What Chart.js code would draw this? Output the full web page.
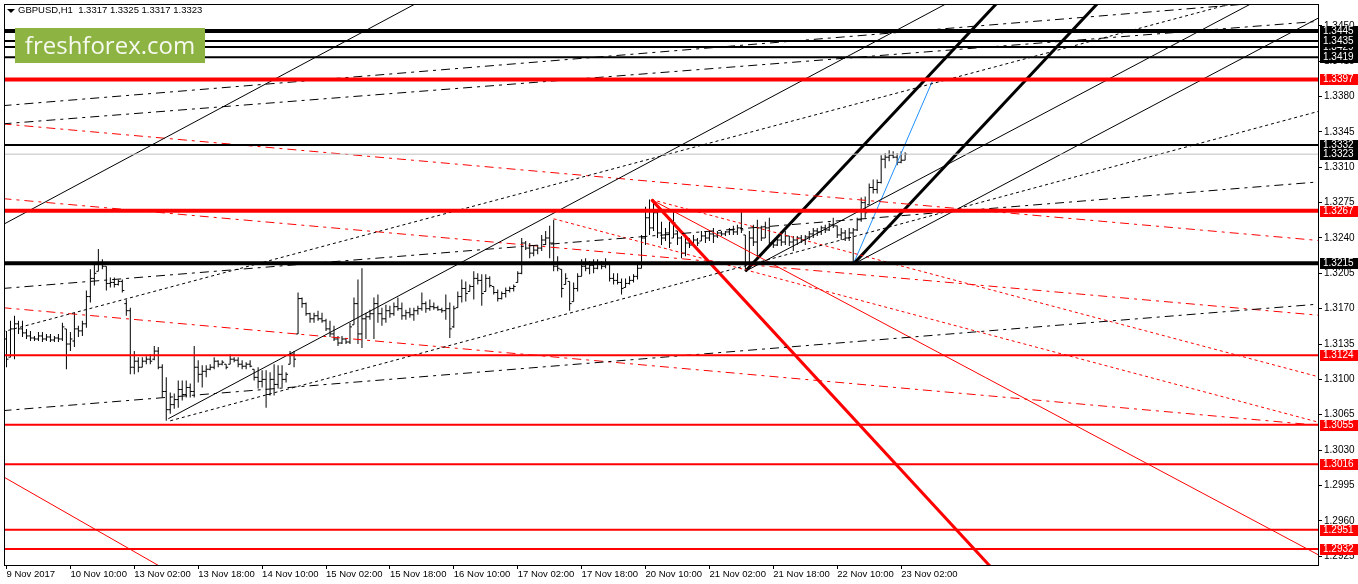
<!DOCTYPE html>
<html><head><meta charset="utf-8">
<script src="https://cdn.jsdelivr.net/npm/chart.js@4"></script>
<style>
html,body{margin:0;padding:0;background:#fff;}
#wrap{position:relative;width:1358px;height:584px;overflow:hidden;}
canvas{display:block;}
#hdr{position:absolute;left:18px;top:4px;font:9.5px "Liberation Sans",Arial,sans-serif;color:#000;white-space:pre;}
#tri{position:absolute;left:7px;top:9px;width:0;height:0;border-left:4px solid transparent;border-right:4px solid transparent;border-top:4px solid #000;}
#logo{position:absolute;left:15px;top:28px;width:190px;height:35px;background:#8db443;color:#f6f9ef;font:24px "Open Sans",sans-serif;line-height:34px;text-align:center;}
</style></head>
<body>
<div id="wrap">
<canvas id="c" width="1358" height="584"></canvas>
<div id="tri"></div>
<div id="hdr">GBPUSD,H1  1.3317 1.3325 1.3317 1.3323</div>
<div id="logo">freshforex.com</div>
</div>
<script>
// ---- time axis ----
const tickIdx = [0,16,32,48,64,80,96,112,128,144,160,176,192,208,224];
const tickLabels = ['9 Nov 2017','10 Nov 10:00','13 Nov 02:00','13 Nov 18:00','14 Nov 10:00','15 Nov 02:00','15 Nov 18:00','16 Nov 10:00','17 Nov 02:00','17 Nov 18:00','20 Nov 10:00','21 Nov 02:00','21 Nov 18:00','22 Nov 10:00','23 Nov 02:00'];
// ---- price axis ----
const priceTicks = [1.2925,1.2960,1.2995,1.3030,1.3065,1.3100,1.3135,1.3170,1.3205,1.3240,1.3275,1.3310,1.3345,1.3380,1.3415,1.3450];

// ---- GBPUSD H1 OHLC ----
const high = [
1.3148,1.3158,1.3163,1.3158,1.3158,1.3150,1.3148,1.3143,1.3147,1.3147,
1.3145,1.3145,1.3143,1.3145,1.3156,1.3150,1.3147,1.3166,1.3153,1.3158,
1.3188,1.3209,1.3214,1.3229,1.3219,1.3212,1.3201,1.3201,1.3199,1.3199,
1.3179,1.3171,1.3128,1.3122,1.3122,1.3123,1.3125,1.3133,1.3132,1.3115,
1.3102,1.3087,1.3086,1.3099,1.3099,1.3099,1.3096,1.3133,1.3119,1.3114,
1.3114,1.3115,1.3122,1.3119,1.3119,1.3115,1.3125,1.3122,1.3122,1.3119,
1.3117,1.3119,1.3110,1.3112,1.3109,1.3109,1.3107,1.3115,1.3114,1.3114,
1.3107,1.3128,1.3128,1.3186,1.3181,1.3176,1.3166,1.3166,1.3168,1.3166,
1.3160,1.3158,1.3153,1.3143,1.3143,1.3141,1.3156,1.3181,1.3199,1.3210,
1.3166,1.3169,1.3181,1.3184,1.3171,1.3174,1.3173,1.3176,1.3181,1.3176,
1.3169,1.3171,1.3171,1.3173,1.3186,1.3177,1.3179,1.3176,1.3173,1.3171,
1.3184,1.3176,1.3173,1.3187,1.3199,1.3197,1.3194,1.3207,1.3205,1.3204,
1.3204,1.3202,1.3192,1.3189,1.3187,1.3191,1.3192,1.3194,1.3207,1.3240,
1.3237,1.3235,1.3232,1.3233,1.3243,1.3247,1.3252,1.3258,1.3222,1.3209,
1.3205,1.3197,1.3196,1.3205,1.3219,1.3220,1.3217,1.3219,1.3219,1.3217,
1.3220,1.3214,1.3205,1.3205,1.3200,1.3200,1.3202,1.3204,1.3214,1.3243,
1.3271,1.3278,1.3278,1.3266,1.3256,1.3250,1.3256,1.3268,1.3247,1.3242,
1.3243,1.3240,1.3243,1.3240,1.3247,1.3247,1.3248,1.3250,1.3247,1.3247,
1.3247,1.3250,1.3252,1.3253,1.3266,1.3243,1.3247,1.3253,1.3258,1.3252,
1.3256,1.3260,1.3238,1.3242,1.3247,1.3247,1.3242,1.3242,1.3242,1.3243,
1.3243,1.3247,1.3250,1.3250,1.3252,1.3253,1.3255,1.3260,1.3252,1.3250,
1.3248,1.3250,1.3250,1.3260,1.3280,1.3281,1.3294,1.3298,1.3298,1.3322,
1.3324,1.3327,1.3326,1.3324,1.3326,1.3325];
const low = [
1.3112,1.3122,1.3120,1.3145,1.3142,1.3140,1.3138,1.3138,1.3138,1.3137,
1.3138,1.3137,1.3137,1.3137,1.3138,1.3110,1.3128,1.3132,1.3142,1.3143,
1.3151,1.3176,1.3193,1.3207,1.3209,1.3188,1.3191,1.3191,1.3193,1.3186,
1.3163,1.3105,1.3105,1.3107,1.3112,1.3115,1.3115,1.3119,1.3110,1.3082,
1.3059,1.3066,1.3071,1.3072,1.3079,1.3082,1.3082,1.3082,1.3097,1.3092,
1.3102,1.3109,1.3110,1.3112,1.3114,1.3110,1.3115,1.3117,1.3112,1.3110,
1.3110,1.3112,1.3099,1.3091,1.3092,1.3072,1.3084,1.3084,1.3091,1.3092,
1.3097,1.3115,1.3112,1.3145,1.3171,1.3163,1.3156,1.3156,1.3158,1.3156,
1.3148,1.3142,1.3138,1.3133,1.3135,1.3135,1.3135,1.3154,1.3135,1.3131,
1.3140,1.3159,1.3140,1.3156,1.3153,1.3156,1.3161,1.3163,1.3168,1.3159,
1.3159,1.3161,1.3158,1.3164,1.3168,1.3166,1.3168,1.3169,1.3168,1.3166,
1.3159,1.3141,1.3151,1.3171,1.3176,1.3177,1.3187,1.3179,1.3194,1.3173,
1.3187,1.3191,1.3184,1.3177,1.3179,1.3181,1.3186,1.3187,1.3196,1.3204,
1.3228,1.3220,1.3222,1.3224,1.3227,1.3233,1.3220,1.3207,1.3207,1.3181,
1.3194,1.3168,1.3177,1.3187,1.3202,1.3207,1.3204,1.3205,1.3209,1.3209,
1.3210,1.3197,1.3194,1.3194,1.3184,1.3191,1.3194,1.3196,1.3199,1.3210,
1.3233,1.3243,1.3247,1.3240,1.3233,1.3237,1.3230,1.3240,1.3233,1.3220,
1.3222,1.3230,1.3233,1.3232,1.3237,1.3235,1.3237,1.3235,1.3240,1.3242,
1.3242,1.3243,1.3243,1.3243,1.3245,1.3207,1.3209,1.3232,1.3220,1.3237,
1.3240,1.3232,1.3230,1.3232,1.3232,1.3233,1.3232,1.3227,1.3233,1.3235,
1.3233,1.3238,1.3240,1.3242,1.3243,1.3245,1.3247,1.3250,1.3240,1.3238,
1.3237,1.3237,1.3214,1.3247,1.3256,1.3260,1.3273,1.3284,1.3284,1.3294,
1.3309,1.3316,1.3319,1.3312,1.3314,1.3317];
const open = [
1.3140,1.3122,1.3150,1.3155,1.3150,1.3146,1.3143,1.3141,1.3140,1.3143,
1.3140,1.3142,1.3139,1.3141,1.3140,1.3150,1.3135,1.3138,1.3150,1.3148,
1.3155,1.3182,1.3200,1.3207,1.3215,1.3212,1.3195,1.3196,1.3194,1.3197,
1.3175,1.3168,1.3112,1.3118,1.3112,1.3118,1.3120,1.3120,1.3128,1.3112,
1.3088,1.3070,1.3075,1.3080,1.3090,1.3085,1.3092,1.3088,1.3112,1.3105,
1.3108,1.3110,1.3112,1.3118,1.3115,1.3115,1.3115,1.3120,1.3119,1.3115,
1.3113,1.3115,1.3110,1.3102,1.3098,1.3100,1.3085,1.3100,1.3095,1.3105,
1.3100,1.3115,1.3125,1.3145,1.3180,1.3175,1.3165,1.3160,1.3163,1.3160,
1.3158,1.3150,1.3145,1.3140,1.3136,1.3140,1.3137,1.3154,1.3175,1.3145,
1.3160,1.3162,1.3165,1.3175,1.3165,1.3160,1.3168,1.3165,1.3172,1.3170,
1.3163,1.3166,1.3164,1.3168,1.3170,1.3175,1.3170,1.3172,1.3171,1.3169,
1.3168,1.3170,1.3152,1.3171,1.3182,1.3190,1.3187,1.3192,1.3200,1.3198,
1.3187,1.3200,1.3192,1.3186,1.3180,1.3185,1.3188,1.3190,1.3196,1.3205,
1.3235,1.3230,1.3225,1.3228,1.3230,1.3238,1.3240,1.3235,1.3212,1.3209,
1.3194,1.3197,1.3177,1.3190,1.3202,1.3212,1.3210,1.3213,1.3210,1.3215,
1.3212,1.3214,1.3200,1.3198,1.3196,1.3191,1.3195,1.3198,1.3202,1.3210,
1.3240,1.3260,1.3250,1.3265,1.3245,1.3240,1.3245,1.3240,1.3247,1.3240,
1.3225,1.3235,1.3233,1.3238,1.3237,1.3242,1.3240,1.3244,1.3242,1.3245,
1.3244,1.3246,1.3248,1.3246,1.3250,1.3243,1.3215,1.3240,1.3236,1.3250,
1.3240,1.3250,1.3235,1.3233,1.3238,1.3236,1.3242,1.3236,1.3238,1.3240,
1.3238,1.3241,1.3244,1.3247,1.3246,1.3250,1.3248,1.3253,1.3252,1.3243,
1.3245,1.3240,1.3245,1.3248,1.3258,1.3275,1.3273,1.3290,1.3288,1.3295,
1.3318,1.3320,1.3322,1.3320,1.3315,1.3317];
const close = [
1.3120,1.3150,1.3155,1.3150,1.3146,1.3143,1.3141,1.3140,1.3143,1.3140,
1.3142,1.3139,1.3141,1.3140,1.3152,1.3135,1.3140,1.3150,1.3148,1.3155,
1.3182,1.3200,1.3205,1.3215,1.3212,1.3195,1.3196,1.3194,1.3197,1.3188,
1.3168,1.3112,1.3118,1.3112,1.3118,1.3120,1.3118,1.3128,1.3112,1.3088,
1.3070,1.3075,1.3080,1.3090,1.3085,1.3092,1.3088,1.3112,1.3105,1.3108,
1.3110,1.3112,1.3118,1.3115,1.3117,1.3112,1.3120,1.3119,1.3115,1.3113,
1.3115,1.3113,1.3102,1.3098,1.3100,1.3085,1.3100,1.3095,1.3105,1.3100,
1.3105,1.3125,1.3120,1.3180,1.3175,1.3165,1.3160,1.3163,1.3160,1.3158,
1.3150,1.3145,1.3140,1.3136,1.3140,1.3137,1.3152,1.3175,1.3145,1.3160,
1.3162,1.3165,1.3175,1.3165,1.3160,1.3168,1.3165,1.3172,1.3170,1.3163,
1.3166,1.3164,1.3168,1.3170,1.3175,1.3170,1.3172,1.3171,1.3169,1.3168,
1.3170,1.3150,1.3170,1.3182,1.3190,1.3185,1.3192,1.3200,1.3198,1.3185,
1.3200,1.3193,1.3186,1.3180,1.3185,1.3188,1.3190,1.3192,1.3205,1.3235,
1.3230,1.3225,1.3228,1.3230,1.3238,1.3240,1.3235,1.3212,1.3210,1.3190,
1.3200,1.3175,1.3190,1.3202,1.3212,1.3210,1.3213,1.3210,1.3215,1.3212,
1.3214,1.3200,1.3198,1.3196,1.3190,1.3195,1.3198,1.3202,1.3210,1.3240,
1.3260,1.3250,1.3265,1.3245,1.3240,1.3245,1.3235,1.3255,1.3240,1.3225,
1.3235,1.3233,1.3238,1.3235,1.3242,1.3240,1.3244,1.3242,1.3245,1.3244,
1.3246,1.3248,1.3246,1.3250,1.3248,1.3215,1.3240,1.3236,1.3250,1.3240,
1.3250,1.3235,1.3233,1.3238,1.3236,1.3242,1.3236,1.3238,1.3240,1.3238,
1.3241,1.3244,1.3247,1.3246,1.3250,1.3248,1.3253,1.3252,1.3243,1.3245,
1.3240,1.3245,1.3248,1.3258,1.3275,1.3265,1.3290,1.3288,1.3295,1.3318,
1.3320,1.3322,1.3320,1.3315,1.3317,1.3323];

// ---- horizontal levels (drawn in this order) ----
const levelPrices = [1.3445,1.3429,1.3435,1.3419,1.3397,1.3332,1.3323,1.3267,1.3215,1.3124,1.3055,1.3016,1.2951,1.2932];
// ---- trend lines: [barIndex1, price1, barIndex2, price2] ----
const trendAnchors = [
 [-1,1.3253,110,1.3488],
 [40.5,1.3061,250,1.3503],
 [212,1.3214,330,1.3461],
 [185,1.3207,315,1.3479],
 [-1,1.3147,320,1.3486],
 [41,1.3059,330,1.3367],
 [-1,1.3371,330,1.3478],
 [-1,1.3353,330,1.3455],
 [-1,1.3190,330,1.3296],
 [-1,1.3069,330,1.3175],
 [-1,1.3353,330,1.3237],
 [-1,1.3279,330,1.3163],
 [-1,1.3171,330,1.3054],
 [161.5,1.3278,330,1.3101],
 [137,1.3259,330,1.3056],
 [161.5,1.3278,330,1.2923],
 [-1,1.3004,45,1.2900],
 [161.5,1.3278,250,1.2899],
 [185,1.3207,250,1.3481],
 [212,1.3214,280,1.3501],
 [212,1.3214,232,1.3397]
];

// ---- styles (kept apart from the values) ----
const BLK='#000000', RED='#ff0000';
const levelStyles = [
 {c:BLK,w:4},{c:BLK,w:2},{c:BLK,w:2},{c:BLK,w:2},{c:RED,w:4},{c:BLK,w:2},{c:'#c0c0c0',w:1},
 {c:RED,w:4},{c:BLK,w:4},{c:RED,w:2},{c:RED,w:2},{c:RED,w:2},{c:RED,w:2},{c:RED,w:2}];
const levelBoxColors = [BLK,BLK,BLK,BLK,RED,BLK,BLK,RED,BLK,RED,RED,RED,RED,RED];
const DOT=[3,3], DASHDOT=[9,5,3,5];
const trendStyles = [
 {c:BLK,w:1,d:[]},{c:BLK,w:1,d:[]},{c:BLK,w:1,d:[]},{c:BLK,w:1,d:[]},
 {c:BLK,w:1,d:DOT},{c:BLK,w:1,d:DOT},
 {c:BLK,w:1,d:DASHDOT},{c:BLK,w:1,d:DASHDOT},{c:BLK,w:1,d:DASHDOT},{c:BLK,w:1,d:DASHDOT},
 {c:RED,w:1,d:DASHDOT},{c:RED,w:1,d:DASHDOT},{c:RED,w:1,d:DASHDOT},
 {c:RED,w:1,d:DOT},{c:RED,w:1,d:DOT},
 {c:RED,w:1,d:[]},{c:RED,w:1,d:[]},
 {c:RED,w:3,d:[]},
 {c:BLK,w:3,d:[]},{c:BLK,w:3,d:[]},
 {c:'#1e90ff',w:1,d:[]}
];

const FONT = '"Liberation Sans", Arial, sans-serif';
Chart.defaults.font.family = FONT;
Chart.defaults.font.size = 10;
Chart.defaults.color = '#000';

const datasets = [];
levelPrices.forEach((p,k)=>{
  datasets.push({type:'line', data:[{x:-2,y:p},{x:340,y:p}], borderColor:levelStyles[k].c,
    borderWidth:levelStyles[k].w, pointRadius:0, order:0, clip:0});
});
trendAnchors.forEach((a,k)=>{
  const s = trendStyles[k];
  datasets.push({type:'line', data:[{x:a[0],y:a[1]},{x:a[2],y:a[3]}], borderColor:s.c,
    borderWidth:s.w, borderDash:s.d, pointRadius:0, order:1, clip:0});
});
datasets.push({type:'bar', data:high.map((h,i)=>({x:i,y:[low[i],h]})), backgroundColor:BLK,
  barThickness:1, minBarLength:1, inflateAmount:0, borderWidth:0, grouped:false, order:6, clip:0});
datasets.push({type:'line', data:open.map((v,i)=>({x:i,y:v})), showLine:false, pointStyle:'dash',
  pointRadius:2, pointRotation:180, pointBorderColor:BLK, pointBackgroundColor:BLK, pointBorderWidth:1, order:5, clip:0});
datasets.push({type:'line', data:close.map((v,i)=>({x:i,y:v})), showLine:false, pointStyle:'dash',
  pointRadius:2, pointRotation:0, pointBorderColor:BLK, pointBackgroundColor:BLK, pointBorderWidth:1, order:5, clip:0});

const mt4 = {
  id:'mt4',
  afterDraw(chart){
    const ctx = chart.ctx, a = chart.chartArea, ys = chart.scales.y;
    ctx.save();
    ctx.strokeStyle = '#000'; ctx.lineWidth = 1;
    ctx.strokeRect(a.left-0.5, a.top-0.5, a.right-a.left+1, a.bottom-a.top+1);
    ctx.font = '10px ' + FONT; ctx.textBaseline = 'middle'; ctx.textAlign = 'left';
    levelPrices.forEach((p,k)=>{
      const py = Math.round(ys.getPixelForValue(p));
      ctx.fillStyle = levelBoxColors[k];
      ctx.fillRect(a.right+2, py-5, 40, 11);
      ctx.fillStyle = '#fff';
      ctx.fillText(p.toFixed(4), a.right+5, py+0.5);
    });
    ctx.restore();
  }
};

new Chart(document.getElementById('c'), {
  type:'line',
  data:{datasets},
  plugins:[mt4],
  options:{
    responsive:false, devicePixelRatio:1, animation:false, events:[],
    layout:{padding:{left:3, top:3, right:0, bottom:0}},
    plugins:{legend:{display:false}, tooltip:{enabled:false}},
    scales:{
      x:{type:'linear', position:'bottom', min:-0.375, max:328.375, offset:false,
        afterBuildTicks:s=>{ s.ticks = tickIdx.map(v=>({value:v})); },
        afterFit:s=>{ s.height = 19; s.paddingLeft = 0; s.paddingRight = 0; },
        ticks:{align:'start', autoSkip:false, maxRotation:0, padding:0, font:{size:9.5},
          callback:(v,i)=>tickLabels[i]},
        grid:{offset:false, drawOnChartArea:false, drawTicks:true, tickLength:4, color:'#000'},
        border:{display:true, color:'#000'}},
      y:{type:'linear', position:'right', min:1.29162, max:1.34707, beginAtZero:false,
        afterBuildTicks:s=>{ s.ticks = priceTicks.map(v=>({value:v})); },
        afterFit:s=>{ s.width = 40; s.paddingTop = 0; s.paddingBottom = 0; },
        ticks:{crossAlign:'near', padding:2, callback:v=>v.toFixed(4)},
        grid:{drawOnChartArea:false, drawTicks:true, tickLength:4, color:'#000'},
        border:{display:true, color:'#000'}}
    }
  }
});
</script>
</body></html>
